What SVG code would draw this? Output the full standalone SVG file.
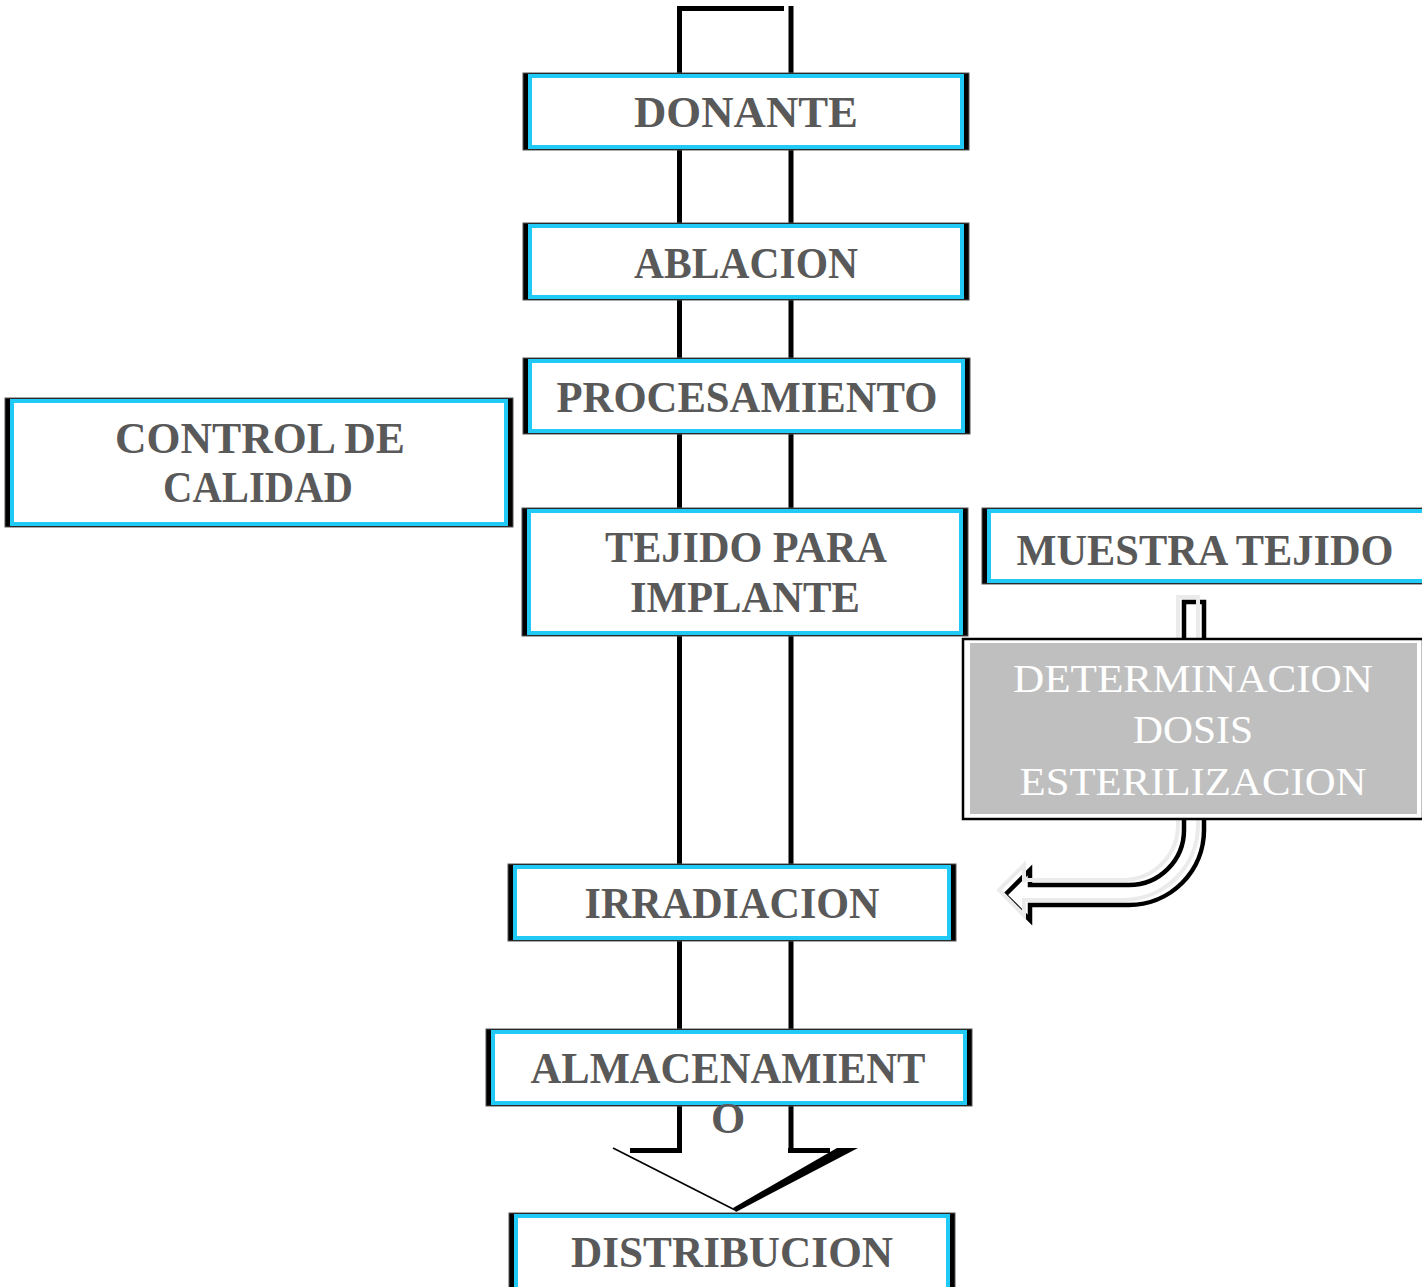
<svg xmlns="http://www.w3.org/2000/svg" width="1422" height="1287" viewBox="0 0 1422 1287">
<style>
.sh{fill:#000;stroke:#555;stroke-width:1}
.in{fill:#fff;stroke:#21c9f7;stroke-width:4}
.t{font-family:"Liberation Serif","Times New Roman",serif;font-weight:bold;font-size:44px;fill:#595959;text-anchor:middle}
.w{font-family:"Liberation Serif","Times New Roman",serif;font-size:40px;fill:#fff;text-anchor:middle}
.ln{stroke:#000;stroke-width:5;fill:none}
</style>
<rect width="1422" height="1287" fill="#fff"/>
<g id="connectors">
  <g id="main-arrow">
    <line class="ln" x1="677" y1="8.5" x2="784" y2="8.5"/>
    <line class="ln" x1="679.5" y1="6" x2="679.5" y2="1152"/>
    <line class="ln" x1="791" y1="6" x2="791" y2="1152"/>
    <line class="ln" x1="630" y1="1150.5" x2="682" y2="1150.5"/>
    <line class="ln" x1="788" y1="1150.5" x2="830" y2="1150.5"/>
    <line x1="613" y1="1148" x2="735" y2="1210" stroke="#000" stroke-width="1.6"/>
    <polygon points="837,1148 858,1148 736,1212 733,1208" fill="#000"/>
  </g>
  <g id="dose-arrow">
    <path d="M1184,602 L1204,602 L1204,830 A75,75 0 0 1 1129,905 L1030,905 L1030,920 L1005,895 L1030,870 L1030,885 L1129,885 A55,55 0 0 0 1184,830 Z" fill="#fff" stroke="#000" stroke-width="4.5" stroke-linejoin="miter"/>
    <path d="M1184,602 L1204,602 L1204,830 A75,75 0 0 1 1129,905 L1030,905 L1030,920 L1005,895 L1030,870 L1030,885 L1129,885 A55,55 0 0 0 1184,830 Z" transform="translate(-6,-5)" fill="none" stroke="#ebebeb" stroke-width="4"/>
  </g>
</g>
<g id="donante">
  <rect class="sh" x="523" y="73" width="446" height="77"/>
  <rect class="in" x="530" y="76" width="432" height="71"/>
  <text class="t" x="746" y="127" textLength="224" lengthAdjust="spacingAndGlyphs">DONANTE</text>
</g>
<g id="ablacion">
  <rect class="sh" x="523" y="223" width="446" height="77"/>
  <rect class="in" x="530" y="226" width="432" height="71"/>
  <text class="t" x="746" y="278" textLength="224" lengthAdjust="spacingAndGlyphs">ABLACION</text>
</g>
<g id="procesamiento">
  <rect class="sh" x="523" y="358" width="447" height="76"/>
  <rect class="in" x="530" y="361" width="433" height="70"/>
  <text class="t" x="747" y="412" textLength="381" lengthAdjust="spacingAndGlyphs">PROCESAMIENTO</text>
</g>
<g id="tejido-implante">
  <rect class="sh" x="522" y="508" width="446" height="128"/>
  <rect class="in" x="529" y="511" width="432" height="122"/>
  <text class="t" x="746" y="562" textLength="282" lengthAdjust="spacingAndGlyphs">TEJIDO PARA</text>
  <text class="t" x="745" y="612" textLength="230" lengthAdjust="spacingAndGlyphs">IMPLANTE</text>
</g>
<g id="muestra-tejido">
  <rect class="sh" x="982" y="508" width="445" height="76"/>
  <rect class="in" x="989" y="511" width="440" height="70"/>
  <text class="t" x="1205" y="565" textLength="377" lengthAdjust="spacingAndGlyphs">MUESTRA TEJIDO</text>
</g>
<g id="control-calidad">
  <rect class="sh" x="5" y="398" width="508" height="129"/>
  <rect class="in" x="12" y="401" width="494" height="123"/>
  <text class="t" x="260" y="453" textLength="290" lengthAdjust="spacingAndGlyphs">CONTROL DE</text>
  <text class="t" x="258" y="502" textLength="190" lengthAdjust="spacingAndGlyphs">CALIDAD</text>
</g>
<g id="determinacion-dosis">
  <rect x="963" y="639" width="460" height="180" fill="#fff" stroke="#000" stroke-width="2.5"/>
  <rect x="970" y="643" width="447" height="171" fill="#bfbfbf"/>
  <text class="w" x="1193" y="692" textLength="360" lengthAdjust="spacingAndGlyphs">DETERMINACION</text>
  <text class="w" x="1193" y="743" textLength="120" lengthAdjust="spacingAndGlyphs">DOSIS</text>
  <text class="w" x="1193" y="795" textLength="347" lengthAdjust="spacingAndGlyphs">ESTERILIZACION</text>
</g>
<g id="irradiacion">
  <rect class="sh" x="508" y="864" width="448" height="77"/>
  <rect class="in" x="515" y="867" width="434" height="71"/>
  <text class="t" x="732" y="918" textLength="295" lengthAdjust="spacingAndGlyphs">IRRADIACION</text>
</g>
<g id="almacenamiento">
  <rect class="sh" x="486" y="1029" width="486" height="77"/>
  <rect class="in" x="493" y="1032" width="472" height="71"/>
  <text class="t" x="728" y="1083" textLength="395" lengthAdjust="spacingAndGlyphs">ALMACENAMIENT</text>
  <text class="t" x="728" y="1133">O</text>
</g>
<g id="distribucion">
  <rect class="sh" x="509" y="1213" width="446" height="80"/>
  <rect class="in" x="516" y="1216" width="432" height="80"/>
  <text class="t" x="732" y="1267" textLength="322" lengthAdjust="spacingAndGlyphs">DISTRIBUCION</text>
</g>
</svg>
